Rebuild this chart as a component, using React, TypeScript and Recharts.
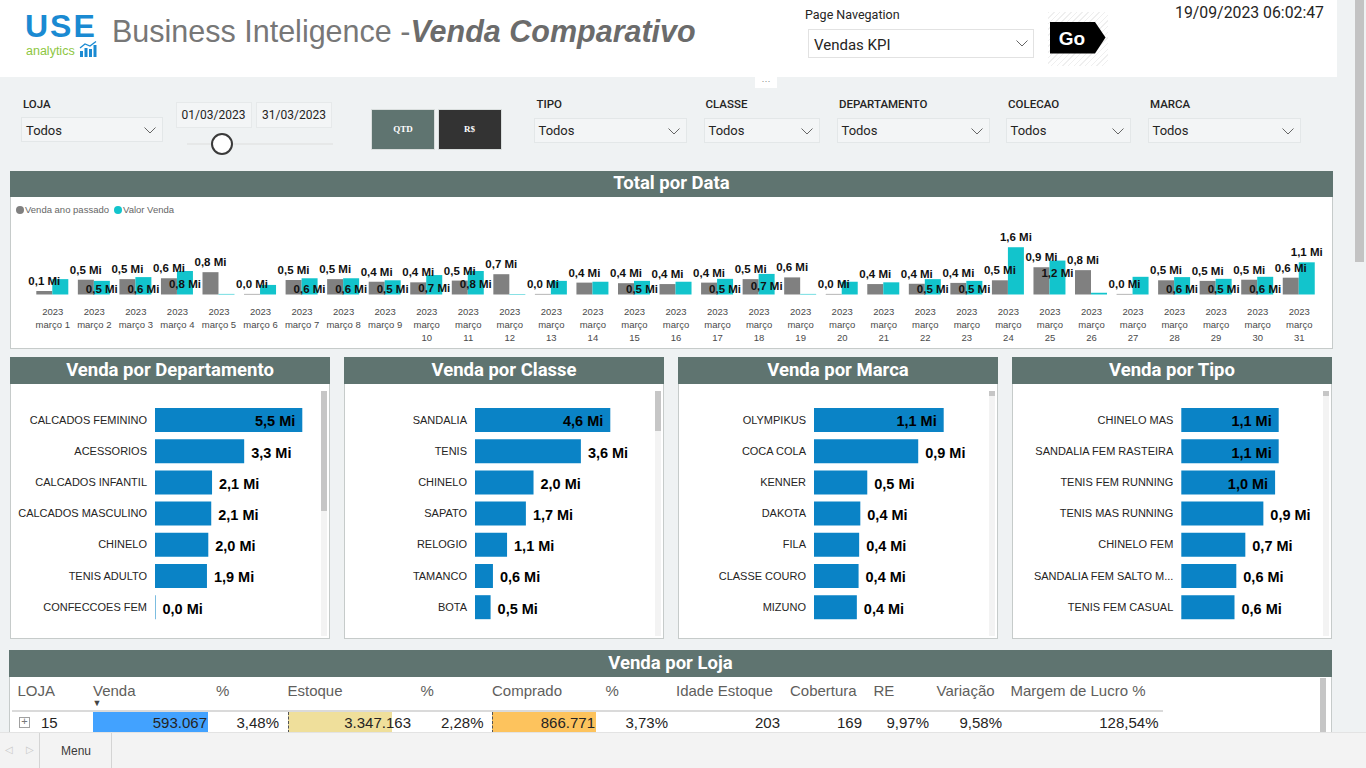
import React from 'react';
import { BarChart, Bar, XAxis, YAxis, LabelList, Legend } from 'recharts';

// ---------- DATA ----------
const dias = [1, 2, 3, 4, 5, 6, 7, 8, 9, 10, 11, 12, 13, 14, 15, 16, 17, 18, 19, 20, 21, 22, 23, 24, 25, 26, 27, 28, 29, 30, 31];
const vendaAnoPassado = [0.12, 0.51, 0.53, 0.56, 0.77, 0.02, 0.5, 0.53, 0.44, 0.42, 0.48, 0.7, 0.02, 0.41, 0.39, 0.36, 0.41, 0.53, 0.59, 0.02, 0.36, 0.37, 0.4, 0.49, 0.94, 0.84, 0.02, 0.49, 0.47, 0.51, 0.58];
const valorVenda = [0.53, 0.47, 0.6, 0.81, 0.02, 0.33, 0.56, 0.56, 0.49, 0.67, 0.81, 0.02, 0.47, 0.44, 0.47, 0.44, 0.54, 0.71, 0.02, 0.44, 0.42, 0.53, 0.47, 1.63, 1.17, 0.06, 0.61, 0.6, 0.54, 0.61, 1.11];
// days where the report hides the "Valor Venda" data label
const diasSemRotuloValor = [1, 5, 6, 12, 13, 14, 16, 19, 20, 21, 26, 27];
const anoLabel = '2023';
const mesLabel = 'março';
const serieNomes = ['Venda ano passado', 'Valor Venda'];

const departamentos = ['CALCADOS FEMININO', 'ACESSORIOS', 'CALCADOS INFANTIL', 'CALCADOS MASCULINO', 'CHINELO', 'TENIS ADULTO', 'CONFECCOES FEM'];
const vendaDepartamento = [5.5, 3.33, 2.13, 2.1, 1.99, 1.94, 0.02];

const classes = ['SANDALIA', 'TENIS', 'CHINELO', 'SAPATO', 'RELOGIO', 'TAMANCO', 'BOTA'];
const vendaClasse = [4.6, 3.6, 1.99, 1.73, 1.09, 0.61, 0.53];

const marcas = ['OLYMPIKUS', 'COCA COLA', 'KENNER', 'DAKOTA', 'FILA', 'CLASSE COURO', 'MIZUNO'];
const vendaMarca = [1.12, 0.9, 0.46, 0.4, 0.39, 0.385, 0.37];

const tipos = ['CHINELO MAS', 'SANDALIA FEM RASTEIRA', 'TENIS FEM RUNNING', 'TENIS MAS RUNNING', 'CHINELO FEM', 'SANDALIA FEM SALTO MEDIO', 'TENIS FEM CASUAL'];
const vendaTipo = [1.08, 1.08, 1.04, 0.91, 0.71, 0.61, 0.59];

const lojaColunas = ['LOJA', 'Venda', '%', 'Estoque', '%', 'Comprado', '%', 'Idade Estoque', 'Cobertura', 'RE', 'Variação', 'Margem de Lucro %'];
const lojaLinha = ['15', '593.067', '3,48%', '3.347.163', '2,28%', '866.771', '3,73%', '203', '169', '9,97%', '9,58%', '128,54%'];

const filtros = ['LOJA', 'TIPO', 'CLASSE', 'DEPARTAMENTO', 'COLECAO', 'MARCA'];
const filtroValor = 'Todos';
const dataInicio = '01/03/2023';
const dataFim = '31/03/2023';
const dataHora = '19/09/2023 06:02:47';

// ---------- STYLE ----------
const GRAY = '#808080';
const TEAL = '#12c4cc';
const BLUE = '#0a83c6';
const HEAD = '#5f7470';
const BG = '#eff2f3';
const FONT = 'Arial, "Liberation Sans", sans-serif';
const DIN = 'Roboto, "Noto Sans", sans-serif';

const abs = (left: number, top: number, width?: number, height?: number, extra: any = {}): React.CSSProperties => ({
  position: 'absolute', left, top, width, height, boxSizing: 'border-box', ...extra,
});

const fmtMi = (v: number) => v.toFixed(1).replace('.', ',') + ' Mi';
const trunc = (s: string) => (s.length > 21 ? s.slice(0, 20) + '...' : s);

const box = (p: any) => {
  const v = p.viewBox && p.viewBox.width !== undefined ? p.viewBox : p;
  return { x: Number(v.x), y: Number(v.y), width: Number(v.width), height: Number(v.height) };
};

function Txt({ x, cy, size, children, align = 'left', style = {} }: any) {
  const lh = size * 1.2;
  let left = x;
  let width: number | undefined = undefined;
  if (align === 'right') { left = x - 500; width = 500; }
  if (align === 'center') { left = x - 300; width = 600; }
  return (
    <div style={{ position: 'absolute', left, top: cy - lh / 2, width, lineHeight: lh + 'px', fontSize: size, whiteSpace: 'nowrap', textAlign: align, ...style }}>
      {children}
    </div>
  );
}

const Chevron = ({ x, y }: { x: number; y: number }) => (
  <svg style={{ position: 'absolute', left: x, top: y }} width={12} height={7}>
    <polyline points="0.5,0.5 6,6 11.5,0.5" fill="none" stroke="#666" strokeWidth={1} />
  </svg>
);

// ---------- TOP CHART ----------
const topData = dias.map((d, i) => ({ dia: d, anoPassado: vendaAnoPassado[i], valor: valorVenda[i] }));

const DayTick = (props: any) => {
  const { x, y, payload } = props;
  const d = payload.value;
  const lines = d < 10 ? [anoLabel, `${mesLabel} ${d}`] : [anoLabel, mesLabel, String(d)];
  return (
    <text x={x} y={y} textAnchor="middle" fontSize={9.5} fill="#4a4a4a" fontFamily={FONT}>
      {lines.map((l, i) => (
        <tspan key={i} x={x} dy={i === 0 ? 20.5 : 13}>{l}</tspan>
      ))}
    </text>
  );
};

const GrayLabel = (p: any) => {
  const b = box(p);
  return (
    <text x={b.x + b.width / 2} y={b.y - 10} textAnchor="middle" dominantBaseline="central" fontFamily={FONT} fontWeight={700} fontSize={11.5} fill="#111">
      {fmtMi(Number(p.value))}
    </text>
  );
};

const TealLabel = (p: any) => {
  const idx = Number(p.index);
  if (diasSemRotuloValor.includes(dias[idx])) return null;
  const b = box(p);
  const v = Number(p.value);
  const g = vendaAnoPassado[idx];
  const above = v >= 1 && v - g >= 0.4;
  const bottom = b.y + b.height;
  const cy = above ? b.y - 10 : Math.min(b.y + 12.5, bottom - 5.5);
  return (
    <text x={b.x + b.width / 2} y={cy} textAnchor="middle" dominantBaseline="central" fontFamily={FONT} fontWeight={700} fontSize={11.5} fill="#111">
      {fmtMi(v)}
    </text>
  );
};

const LegendContent = (p: any) => {
  const items = [...(p.payload || [])].sort((a: any, b: any) => serieNomes.indexOf(a.value) - serieNomes.indexOf(b.value));
  return (
    <div style={{ display: 'flex', alignItems: 'center', fontFamily: FONT, fontSize: 9.5, color: '#666', lineHeight: '12px' }}>
      {items.map((e: any, i: number) => (
        <span key={i} style={{ display: 'flex', alignItems: 'center', marginRight: 5 }}>
          <span style={{ display: 'inline-block', width: 8, height: 8, borderRadius: 4, background: e.color, marginRight: 1 }} />
          {e.value}
        </span>
      ))}
    </div>
  );
};

function TopChart() {
  return (
    <div style={abs(10, 200, 1323, 145)}>
      <BarChart width={1323} height={145} data={topData} margin={{ top: 36.5, right: 13, left: 22, bottom: 0 }} barGap={0} barCategoryGap={4.3}>
        <XAxis dataKey="dia" interval={0} tickLine={false} axisLine={false} tickSize={0} tickMargin={0} height={50.5} tick={<DayTick />} />
        <YAxis hide domain={[0, 2]} />
        <Legend verticalAlign="middle" align="center" layout="horizontal" wrapperStyle={{ top: 4, left: 6, width: 300, height: 14 }} content={<LegendContent />} />
        <Bar dataKey="anoPassado" name={serieNomes[0]} fill={GRAY} isAnimationActive={false}>
          <LabelList dataKey="anoPassado" content={GrayLabel} />
        </Bar>
        <Bar dataKey="valor" name={serieNomes[1]} fill={TEAL} isAnimationActive={false}>
          <LabelList dataKey="valor" content={TealLabel} />
        </Bar>
      </BarChart>
    </div>
  );
}

// ---------- HORIZONTAL BAR PANELS ----------
const CatTick = (p: any) => (
  <text x={p.x} y={p.y} textAnchor="end" dominantBaseline="central" fontSize={11} fill="#252423" fontFamily={FONT}>
    {trunc(String(p.payload.value))}
  </text>
);

function HBarChart({ nomes, valores, left, barStart, barEnd, right }: any) {
  const data = nomes.map((nome: string, i: number) => ({ nome, valor: valores[i] }));
  const width = right - left;
  const height = 218.4;
  const renderLabel = (p: any) => {
    const b = box(p);
    const end = b.x + b.width;
    const inside = end + 7 + 45 > width;
    return (
      <text x={inside ? end - 7 : end + 7} y={b.y + b.height / 2 + 1.5} textAnchor={inside ? 'end' : 'start'} dominantBaseline="central" fontFamily={FONT} fontWeight={700} fontSize={14.5} fill="#000">
        {fmtMi(Number(p.value))}
      </text>
    );
  };
  return (
    <div style={abs(left, 403.7, width, height)}>
      <BarChart width={width} height={height} data={data} layout="vertical" margin={{ top: 0, right: right - barEnd, left: 0, bottom: 0 }} barCategoryGap={3.6}>
        <XAxis type="number" hide domain={[0, 'dataMax']} />
        <YAxis type="category" dataKey="nome" width={barStart - left} tickLine={false} axisLine={false} tickSize={0} tickMargin={8} interval={0} tick={<CatTick />} />
        <Bar dataKey="valor" fill={BLUE} barSize={24} isAnimationActive={false}>
          <LabelList dataKey="valor" content={renderLabel} />
        </Bar>
      </BarChart>
    </div>
  );
}

function Panel({ left, title, thumbTop, thumbH }: any) {
  return (
    <>
      <div style={abs(left, 357, 320, 27, { background: HEAD })} />
      <Txt x={left + 160} cy={370} size={18.5} align="center" style={{ color: '#fff', fontFamily: DIN, fontWeight: 700 }}>{title}</Txt>
      <div style={abs(left, 384, 320, 255, { background: '#fff', border: '1px solid #c6cbca', borderTop: 'none' })} />
      <div style={abs(left + 311, 391, 6, 245, { background: '#f3f3f3' })} />
      <div style={abs(left + 311, thumbTop, 6, thumbH, { background: '#c6c6c6' })} />
    </>
  );
}

// ---------- PAGE ----------
const filtroLayout = [
  { lx: 23, bx: 21, bw: 142, by: 117 },
  { lx: 536.5, bx: 533.5, bw: 153.5, by: 117.5 },
  { lx: 705.5, bx: 703.5, bw: 116.5, by: 117.5 },
  { lx: 839, bx: 836.5, bw: 153.5, by: 117.5 },
  { lx: 1008, bx: 1005.5, bw: 125, by: 117.5 },
  { lx: 1150, bx: 1147.5, bw: 153, by: 117.5 },
];

const colHeaderX = [17.5, 93, 216, 287.5, 420.5, 492, 605.5, 676, 790, 873.5, 936.5, 1010.5];
const colRight = [0, 207, 279, 411, 483.5, 595, 668, 780, 862, 929, 1002, 1158.5];

export default function App() {
  return (
    <div style={{ position: 'absolute', left: 0, top: 0, width: 1366, height: 768, overflow: 'hidden', background: BG, fontFamily: FONT }}>
      {/* header */}
      <div style={abs(0, 0, 1337, 77, { background: '#fff' })} />
      <Txt x={25} cy={26.5} size={32} style={{ color: '#1a8ad2', fontWeight: 700, letterSpacing: 2 }}>USE</Txt>
      <Txt x={26} cy={51.5} size={12.5} style={{ color: '#8dc63f' }}>analytics</Txt>
      <svg style={{ position: 'absolute', left: 79, top: 41 }} width={19} height={17}>
        <rect x={1} y={10} width={3} height={6} fill="#1a8ad2" />
        <rect x={5.5} y={7} width={3} height={9} fill="#1a8ad2" />
        <rect x={10} y={8} width={3} height={8} fill="#1a8ad2" />
        <rect x={14.5} y={4} width={3} height={12} fill="#1a8ad2" />
        <polyline points="1,7 6,3 11,5 17,0.5" fill="none" stroke="#1a8ad2" strokeWidth={1.3} />
      </svg>
      <Txt x={112} cy={31.5} size={30.5} style={{ color: '#777' }}>
        Business Inteligence -<span style={{ fontWeight: 700, fontStyle: 'italic', color: '#6b6b6b' }}>Venda Comparativo</span>
      </Txt>
      <Txt x={805} cy={14} size={12.5} style={{ color: '#252423', fontFamily: DIN }}>Page Navegation</Txt>
      <div style={abs(808, 29, 226, 28.5, { background: '#fff', border: '1px solid #e2e2e2' })} />
      <Txt x={814} cy={44.5} size={15} style={{ color: '#252423', fontFamily: DIN }}>Vendas KPI</Txt>
      <Chevron x={1016} y={40} />
      <div style={abs(1048, 12, 60, 54, { background: 'repeating-linear-gradient(135deg, #efefef 0 1px, #ffffff 1px 4px)' })} />
      <svg style={{ position: 'absolute', left: 1048, top: 12 }} width={60} height={54}>
        <polygon points="2,10 47,10 57.5,25.5 47,41.5 2,41.5" fill="#000" />
        <text x={24} y={26} textAnchor="middle" dominantBaseline="central" fill="#fff" fontFamily={FONT} fontWeight={700} fontSize={19}>Go</text>
      </svg>
      <Txt x={1324} cy={13.5} size={15.8} align="right" style={{ color: '#252423', fontFamily: DIN }}>{dataHora}</Txt>
      <div style={abs(755, 77, 22, 11, { background: '#fff' })} />
      <Txt x={766} cy={81} size={9} align="center" style={{ color: '#888' }}>···</Txt>
      <div style={abs(1355, 0, 9, 262, { background: '#c3c3c3' })} />

      {/* filters */}
      {filtros.map((f, i) => {
        const L = filtroLayout[i];
        return (
          <React.Fragment key={f}>
            <Txt x={L.lx} cy={105} size={11.5} style={{ color: '#252423', fontFamily: DIN, fontWeight: 500 }}>{f}</Txt>
            <div style={abs(L.bx, L.by, L.bw, 25, { border: '1px solid #e3e7e8', background: '#f3f5f6' })} />
            <Txt x={L.bx + 5} cy={L.by + 13.5} size={13} style={{ color: '#252423', fontFamily: DIN }}>{filtroValor}</Txt>
            <Chevron x={L.bx + L.bw - 19} y={L.by + 10} />
          </React.Fragment>
        );
      })}
      <div style={abs(175.5, 101.5, 76, 26, { border: '1px solid #e6e9ea', background: '#f3f5f6' })} />
      <div style={abs(256, 101.5, 76, 26, { border: '1px solid #e6e9ea', background: '#f3f5f6' })} />
      <Txt x={213.5} cy={115} size={12} align="center" style={{ color: '#252423', fontFamily: DIN }}>{dataInicio}</Txt>
      <Txt x={294} cy={115} size={12} align="center" style={{ color: '#252423', fontFamily: DIN }}>{dataFim}</Txt>
      <div style={abs(187, 142.5, 146, 2, { background: '#e6e8e8' })} />
      <div style={abs(211, 133, 22, 22, { borderRadius: 11, border: '2px solid #3a3a3a', background: '#fff' })} />
      <div style={abs(371, 109, 64, 41, { background: HEAD, border: '1px solid #d9dedd' })} />
      <div style={abs(437.5, 109, 64, 41, { background: '#333', border: '1px solid #d9dedd' })} />
      <Txt x={403} cy={129.5} size={9} align="center" style={{ color: '#fff', fontFamily: '"Liberation Serif", serif', fontWeight: 700 }}>QTD</Txt>
      <Txt x={469.5} cy={129.5} size={9} align="center" style={{ color: '#fff', fontFamily: '"Liberation Serif", serif', fontWeight: 700 }}>R$</Txt>

      {/* Total por Data */}
      <div style={abs(10, 171, 1323, 26.5, { background: HEAD })} />
      <Txt x={671.5} cy={183.5} size={18.5} align="center" style={{ color: '#fff', fontFamily: DIN, fontWeight: 700 }}>Total por Data</Txt>
      <div style={abs(10, 197, 1323, 152, { background: '#fff', border: '1px solid #c6cbca', borderTop: 'none' })} />
      <TopChart />

      {/* bar panels */}
      <Panel left={10} title="Venda por Departamento" thumbTop={391} thumbH={120} />
      <HBarChart nomes={departamentos} valores={vendaDepartamento} left={11} barStart={155} barEnd={302.3} right={318} />
      <Panel left={344} title="Venda por Classe" thumbTop={391} thumbH={40} />
      <HBarChart nomes={classes} valores={vendaClasse} left={345} barStart={475} barEnd={610.3} right={652} />
      <Panel left={678} title="Venda por Marca" thumbTop={391} thumbH={5} />
      <HBarChart nomes={marcas} valores={vendaMarca} left={679} barStart={814} barEnd={943.7} right={986} />
      <Panel left={1012} title="Venda por Tipo" thumbTop={391} thumbH={5} />
      <HBarChart nomes={tipos} valores={vendaTipo} left={1013} barStart={1181.3} barEnd={1278.7} right={1318} />

      {/* Venda por Loja */}
      <div style={abs(9, 649.5, 1323, 27.5, { background: HEAD })} />
      <Txt x={670.5} cy={663} size={18.5} align="center" style={{ color: '#fff', fontFamily: DIN, fontWeight: 700 }}>Venda por Loja</Txt>
      <div style={abs(9, 677, 1323, 60, { background: '#fff', border: '1px solid #c6cbca', borderTop: 'none' })} />
      <div style={abs(1320, 678, 6, 54, { background: '#c6c6c6' })} />
      {lojaColunas.map((c, i) => (
        <Txt key={'h' + i} x={colHeaderX[i]} cy={690.5} size={15} style={{ color: '#605e5c' }}>{c}</Txt>
      ))}
      <Txt x={97} cy={703} size={9} align="center" style={{ color: '#444' }}>▼</Txt>
      <div style={abs(12, 709.5, 1151, 2, { background: '#dadada' })} />
      <div style={abs(93, 711.5, 114.5, 21, { background: '#42a2ff' })} />
      <div style={abs(287.5, 711.5, 104.5, 21, { background: '#efdf9b', borderLeft: '1px dashed #555' })} />
      <div style={abs(492, 711.5, 103.5, 21, { background: '#fdc35d', borderLeft: '1px dashed #555' })} />
      <div style={abs(19, 717, 11, 11, { border: '1px solid #a0a0a0', background: '#fff' })} />
      <Txt x={24.5} cy={722} size={11} align="center" style={{ color: '#777' }}>+</Txt>
      <Txt x={41} cy={722.5} size={15} style={{ color: '#252423' }}>{lojaLinha[0]}</Txt>
      {lojaLinha.slice(1).map((v, i) => (
        <Txt key={'c' + i} x={colRight[i + 1]} cy={722.5} size={15} align="right" style={{ color: '#252423' }}>{v}</Txt>
      ))}

      {/* tab bar */}
      <div style={abs(0, 732, 1366, 36, { background: '#f3f3f3', borderTop: '1px solid #e3e3e3' })} />
      <Txt x={8.5} cy={750} size={10} align="center" style={{ color: '#c8c8c8' }}>◁</Txt>
      <Txt x={30} cy={750} size={10} align="center" style={{ color: '#c8c8c8' }}>▷</Txt>
      <div style={abs(39, 733, 1, 35, { background: '#d4d4d4' })} />
      <Txt x={61} cy={751} size={12} style={{ color: '#3b3a39' }}>Menu</Txt>
      <div style={abs(111, 733, 1, 35, { background: '#d4d4d4' })} />
    </div>
  );
}
